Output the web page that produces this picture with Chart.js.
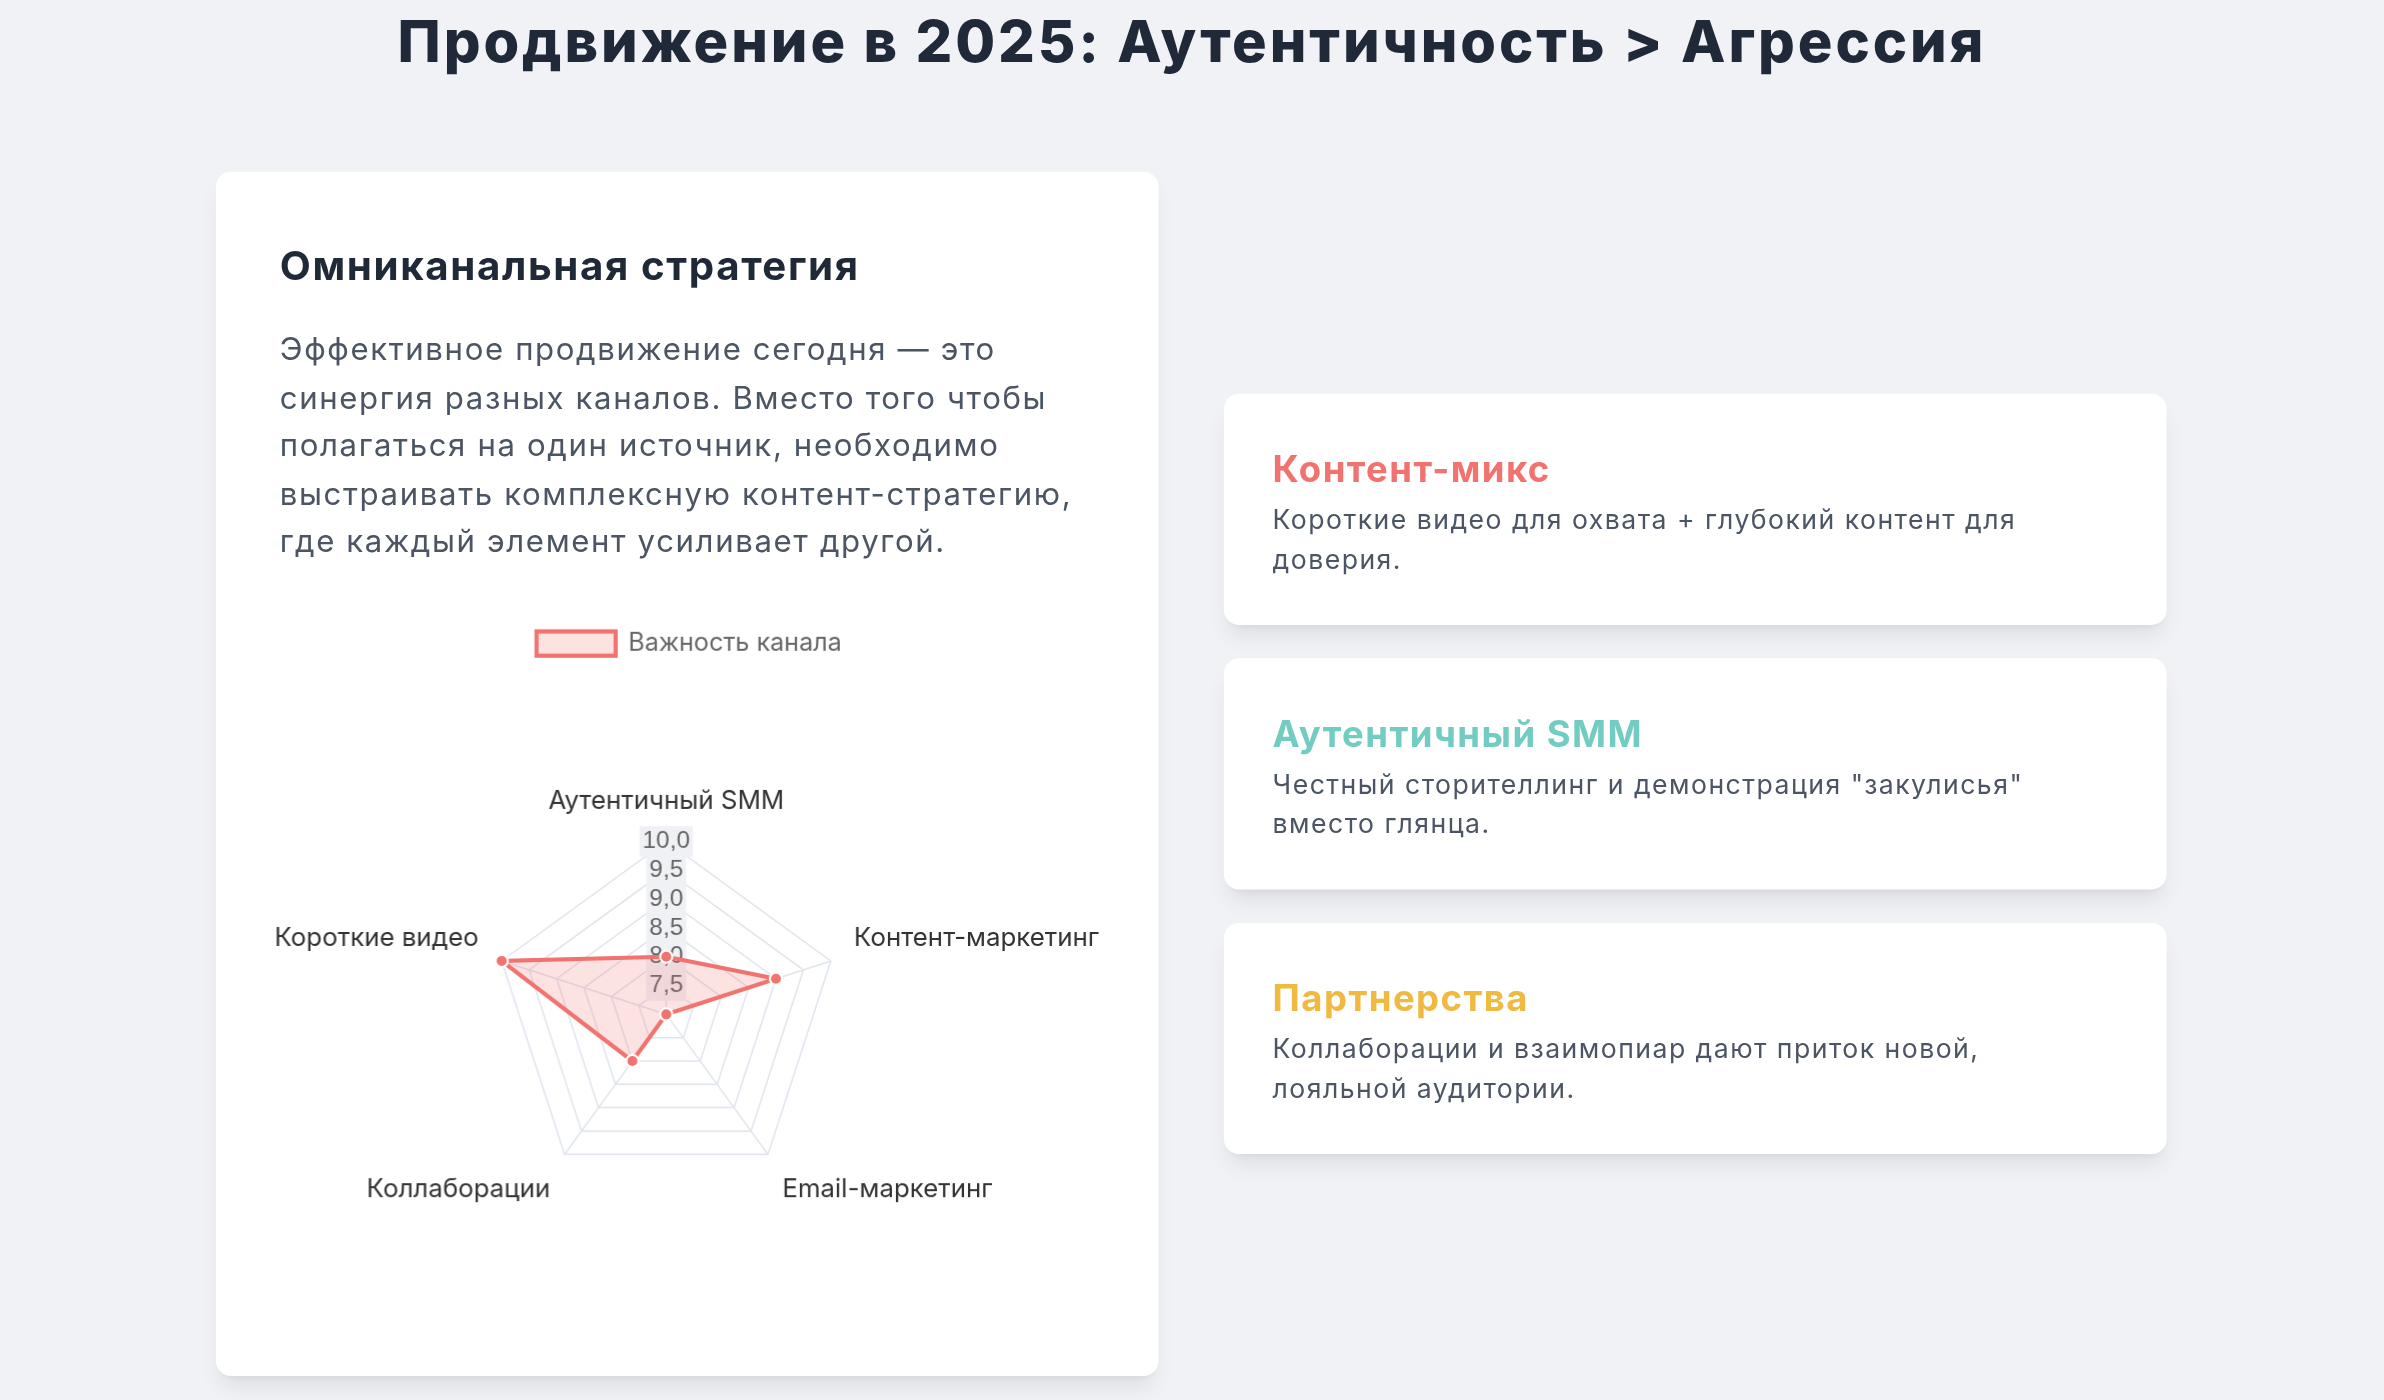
<!DOCTYPE html>
<html lang="ru">
<head>
<meta charset="utf-8">
<title>Продвижение в 2025</title>
<script src="https://cdn.jsdelivr.net/npm/chart.js@4.4.1/dist/chart.umd.min.js"></script>
<style>
  html, body {
    margin: 0;
    padding: 0;
    width: 2384px;
    height: 1400px;
    overflow: hidden;
    background: #f0f2f6;
  }
  /* layout is written at 1568px wide and scaled up to the 2384px window */
  #page {
    position: relative;
    width: 1568px;
    height: 921px;
    transform: scale(1.5204);
    transform-origin: 0 0;
    font-family: Inter, 'Noto Sans', sans-serif;
    color: #4b5563;
  }
  h1 {
    position: absolute;
    left: 0;
    right: 0;
    top: 6px;
    margin: 0;
    text-align: center;
    font-size: 38px;
    line-height: 42px;
    font-weight: 800;
    color: #1f2937;
    letter-spacing: 0.05em;
  }
  .card {
    background: #fff;
    border-radius: 10px;
    box-sizing: border-box;
    box-shadow: 0 10px 15px -3px rgba(0, 0, 0, 0.08), 0 4px 6px -4px rgba(0, 0, 0, 0.08);
  }
  #strategy {
    position: absolute;
    left: 142px;
    top: 113px;
    width: 620px;
    height: 792px;
    padding: 45px 40px 0 42px;
  }
  #strategy h2 {
    margin: 0;
    font-size: 26.5px;
    line-height: 32px;
    font-weight: 700;
    color: #1f2937;
    letter-spacing: 0.04em;
  }
  #strategy p {
    margin: 24px 0 0;
    font-size: 20.5px;
    line-height: 31.5px;
    white-space: nowrap;
    letter-spacing: 0.052em;
  }
  /* the canvas is a bit wider than the text column so the radar gets its size */
  .chart-box {
    position: relative;
    margin: 33.5px 0 0 -16px;
    width: 570px;
    height: 464px;
  }
  #points {
    position: absolute;
    left: 805px;
    top: 259px;
    width: 620px;
    display: flex;
    flex-direction: column;
    gap: 22px;
  }
  .point {
    height: 152px;
    padding: 34px 32px 0;
  }
  .point h3 {
    margin: 0 0 4px;
    font-size: 24px;
    line-height: 32px;
    font-weight: 700;
    letter-spacing: 0.04em;
  }
  .point p {
    margin: 0;
    font-size: 17.5px;
    line-height: 26px;
    white-space: nowrap;
    letter-spacing: 0.055em;
  }
</style>
</head>
<body>
<div id="page">
  <h1>Продвижение в 2025: Аутентичность &gt; Агрессия</h1>

  <div class="card" id="strategy">
    <h2>Омниканальная стратегия</h2>
    <p>Эффективное продвижение сегодня — это<br>
      синергия разных каналов. Вместо того чтобы<br>
      полагаться на один источник, необходимо<br>
      выстраивать комплексную контент-стратегию,<br>
      где каждый элемент усиливает другой.</p>
    <div class="chart-box">
      <canvas id="channelChart"></canvas>
    </div>
  </div>

  <div id="points">
    <div class="card point">
      <h3 style="color:#f0736f">Контент-микс</h3>
      <p>Короткие видео для охвата + глубокий контент для<br>доверия.</p>
    </div>
    <div class="card point">
      <h3 style="color:#72ccc1">Аутентичный SMM</h3>
      <p>Честный сторителлинг и демонстрация "закулисья"<br>вместо глянца.</p>
    </div>
    <div class="card point">
      <h3 style="color:#f0b940">Партнерства</h3>
      <p>Коллаборации и взаимопиар дают приток новой,<br>лояльной аудитории.</p>
    </div>
  </div>
</div>

<script>
// channels clockwise from the top of the radar
const channels = ['Аутентичный SMM', 'Контент-маркетинг', 'Email-маркетинг', 'Коллаборации', 'Короткие видео'];
const importance = [8, 9, 7, 8, 10];
const seriesLabel = 'Важность канала';

// radial axis range and tick step
const axisMin = 7;
const axisMax = 10;
const axisStep = 0.5;

const coral = 'rgb(240, 115, 111)';
const coralFill = 'rgba(240, 115, 111, 0.2)';
const gridColor = '#dfe4ee';

function createChannelChart() {
  var ctx = document.getElementById('channelChart').getContext('2d');

  var chart = new Chart(ctx, {
    type: 'radar',
    data: {
      labels: channels,
      datasets: [
        {
          label: seriesLabel,
          data: importance,
          backgroundColor: coralFill,
          borderColor: coral,
          borderWidth: 2.7,
          pointBackgroundColor: coral,
          pointBorderColor: '#fff',
          pointBorderWidth: 1.4,
          pointRadius: 4
        }
      ]
    },
    options: {
      locale: 'ru-RU',
      responsive: true,
      maintainAspectRatio: false,
      animation: false,
      // the page is scaled by 1.5204, so draw the canvas sharper by the same amount
      devicePixelRatio: 1.5204 * (window.devicePixelRatio || 1),
      plugins: {
        legend: {
          labels: {
            boxWidth: 52,
            boxHeight: 16,
            color: '#666',
            font: { family: 'Inter', size: 16.5 }
          }
        },
        tooltip: { enabled: false }
      },
      scales: {
        r: {
          min: axisMin,
          max: axisMax,
          ticks: {
            stepSize: axisStep,
            color: '#666',
            font: { size: 16 },
            backdropColor: '#eff1f5'
          },
          grid: { color: gridColor },
          angleLines: { color: gridColor },
          pointLabels: {
            color: '#333',
            padding: 6,
            font: { family: 'Inter', size: 17 }
          }
        }
      }
    }
  });
}

createChannelChart();
</script>
</body>
</html>
